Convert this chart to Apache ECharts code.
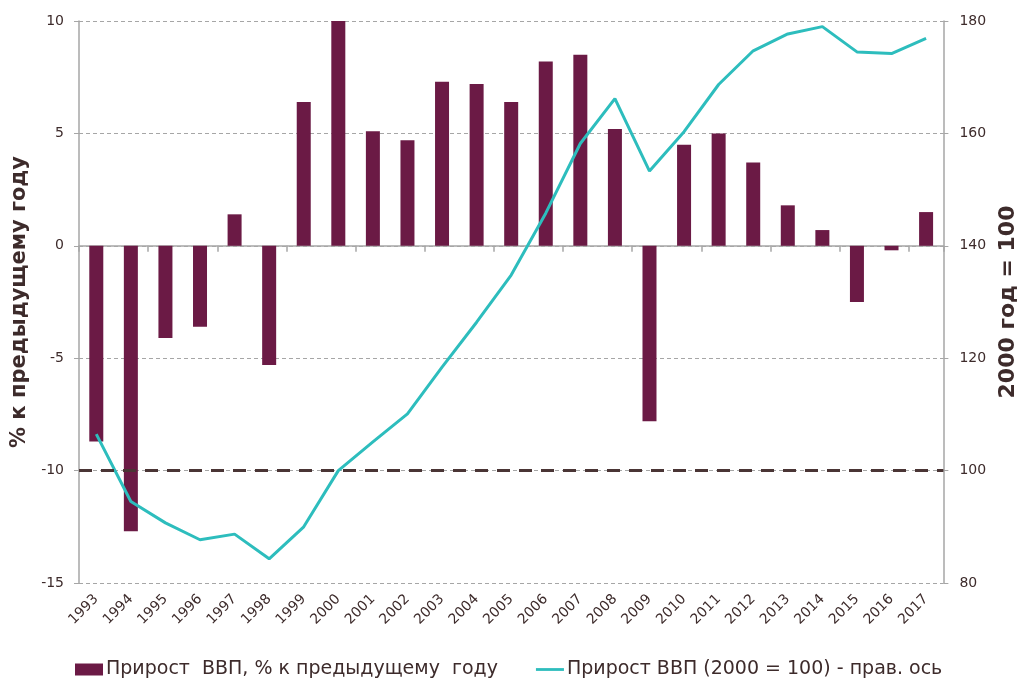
<!DOCTYPE html>
<html>
<head>
<meta charset="utf-8">
<script src="https://cdn.jsdelivr.net/npm/echarts@6/dist/echarts.min.js"></script>
<style>
  html, body { margin: 0; padding: 0; background: #fff; }
  #chart { width: 1027px; height: 681px; }
</style>
</head>
<body>
<div id="chart"></div>
<script>
// годы
const years = ['1993', '1994', '1995', '1996', '1997', '1998', '1999', '2000', '2001', '2002',
  '2003', '2004', '2005', '2006', '2007', '2008', '2009', '2010', '2011', '2012',
  '2013', '2014', '2015', '2016', '2017']

// прирост ВВП, % к предыдущему году (левая ось)
const gdpGrowth = [-8.7, -12.7, -4.1, -3.6, 1.4, -5.3, 6.4, 10.0, 5.1, 4.7,
  7.3, 7.2, 6.4, 8.2, 8.5, 5.2, -7.8, 4.5, 5.0, 3.7,
  1.8, 0.7, -2.5, -0.2, 1.5]

// индекс ВВП, 2000 = 100 (правая ось)
const gdpIndex = [106.5, 94.5, 90.7, 87.7, 88.7, 84.3, 90.0, 100.0, 105.1, 110.1,
  118.4, 126.4, 134.8, 145.8, 158.2, 166.2, 153.3, 160.3, 168.7, 174.7,
  177.7, 179.0, 174.5, 174.2, 176.9]

const barName = 'Прирост  ВВП, % к предыдущему  году'
const lineName = 'Прирост ВВП (2000 = 100) - прав. ось'

const textColor = '#3d2b2b'
const axisGray = '#a6a6a6'
const font = 'DejaVu Sans'

const chart = echarts.init(document.getElementById('chart'))

const option = {
  backgroundColor: '#fff',
  animation: false,
  textStyle: { fontFamily: font, color: textColor },
  grid: { left: 79, right: 81, top: 21, bottom: 98 },
  legend: {
    left: 70,
    top: 655,
    itemGap: 38,
    itemWidth: 28,
    itemHeight: 12,
    textStyle: { fontFamily: font, fontSize: 19, color: textColor, padding: [0, 0, 0, -2] },
    data: [
      { name: barName, icon: 'rect' },
      { name: lineName, icon: 'path://M0 0 L30 0 L30 3 L0 3 Z' }
    ]
  },
  xAxis: [
    {
      // линия по нулю с засечками
      type: 'category',
      data: years,
      position: 'bottom',
      boundaryGap: true,
      axisLine: { onZero: true, lineStyle: { color: axisGray, width: 1.5 } },
      axisTick: { show: true, length: 6, lineStyle: { color: axisGray, width: 1.5 } },
      axisLabel: { show: false },
      splitLine: { show: false }
    },
    {
      // подписи годов внизу
      type: 'category',
      data: years,
      position: 'bottom',
      axisLine: { show: false, onZero: false },
      axisTick: { show: false },
      axisLabel: {
        rotate: 45,
        margin: 14,
        fontSize: 14,
        color: textColor,
        fontFamily: font
      },
      splitLine: { show: false }
    }
  ],
  yAxis: [
    {
      type: 'value',
      min: -15,
      max: 10,
      interval: 5,
      name: '% к предыдущему году',
      nameLocation: 'middle',
      nameGap: 46,
      nameTextStyle: { fontSize: 21, fontWeight: 'bold', color: textColor, fontFamily: font },
      axisLine: { show: true, lineStyle: { color: axisGray, width: 1.5 } },
      axisTick: { show: true, length: 5, lineStyle: { color: axisGray } },
      axisLabel: { fontSize: 14, color: textColor, margin: 15 },
      splitLine: { lineStyle: { color: axisGray, type: [4, 3], width: 1 } }
    },
    {
      type: 'value',
      min: 80,
      max: 180,
      interval: 20,
      name: '2000 год = 100',
      nameLocation: 'middle',
      nameGap: 50,
      nameTextStyle: { fontSize: 22, fontWeight: 'bold', color: textColor, fontFamily: font },
      axisLine: { show: true, lineStyle: { color: axisGray, width: 1.5 } },
      axisTick: { show: true, length: 5, lineStyle: { color: axisGray } },
      axisLabel: { fontSize: 14, color: textColor, margin: 16 },
      splitLine: { show: false }
    }
  ],
  series: [
    {
      name: barName,
      type: 'bar',
      xAxisIndex: 0,
      yAxisIndex: 0,
      data: gdpGrowth,
      barWidth: 14,
      itemStyle: { color: '#6b1a45' },
      z: 2
    },
    {
      name: lineName,
      type: 'line',
      xAxisIndex: 0,
      yAxisIndex: 1,
      data: gdpIndex,
      showSymbol: false,
      symbol: 'none',
      lineStyle: { color: '#2dbdbd', width: 3 },
      itemStyle: { color: '#2dbdbd' },
      z: 4,
      markLine: {
        silent: true,
        symbol: 'none',
        label: { show: false },
        lineStyle: { color: '#4a3535', width: 3, type: [13, 9] },
        data: [{ yAxis: 100 }]
      }
    }
  ]
}

chart.setOption(option)
</script>
</body>
</html>
